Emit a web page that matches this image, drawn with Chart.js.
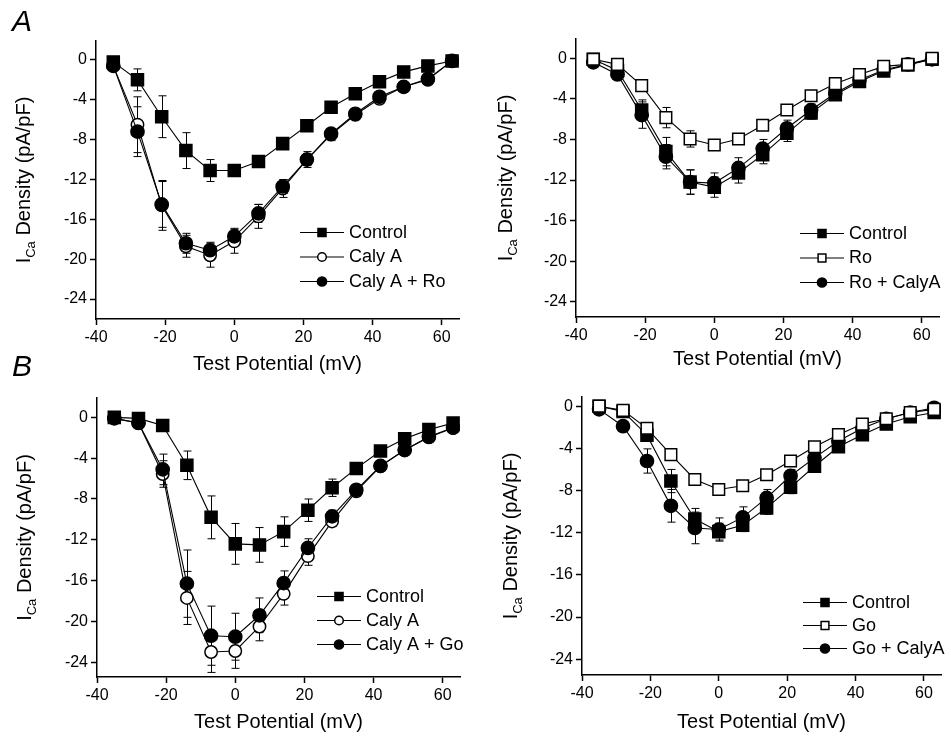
<!DOCTYPE html>
<html>
<head>
<meta charset="utf-8">
<script src="https://cdn.jsdelivr.net/npm/chart.js@4.4.0/dist/chart.umd.min.js"></script>
<style>
body { margin: 0; background: #fff; }
#wrap { position: relative; width: 951px; height: 738px; font-family: Arial, "Liberation Sans", sans-serif; }
canvas { position: absolute; }
.tag { position: absolute; left: 12px; font-style: italic; font-size: 30px; line-height: 30px; color: #000; }
</style>
</head>
<body>
<div id="wrap">
  <canvas id="aLeft" width="470" height="380" style="left:0;top:0"></canvas>
  <canvas id="aRight" width="481" height="380" style="left:470px;top:0"></canvas>
  <canvas id="bLeft" width="470" height="368" style="left:0;top:370px"></canvas>
  <canvas id="bRight" width="481" height="368" style="left:470px;top:370px"></canvas>
  <div class="tag" style="top:6px">A</div>
  <div class="tag" style="top:351px">B</div>
</div>
<script>
// test potentials (mV)
const volts = [-35, -28, -21, -14, -7, 0, 7, 14, 21, 28, 35, 42, 49, 56, 63];
const xTicks = [-40, -20, 0, 20, 40, 60];
const yTicks = [0, -4, -8, -12, -16, -20, -24];

// A, left: Control / Caly A / Caly A + Ro
const aCtrl    = [-0.2, -2.0, -5.7, -9.1, -11.1, -11.1, -10.2, -8.4, -6.6, -4.75, -3.4, -2.2, -1.2, -0.6, -0.1];
const aCtrlErr = [0.3, 1.1, 2.1, 1.8, 1.1, 0.6, 0.4, 0.3, 0.3, 0.3, 0.3, 0.3, 0.3, 0.3, 0.2];
const aCaly    = [-0.6, -6.5, -14.6, -18.7, -19.6, -18.2, -15.7, -12.9, -10.0, -7.5, -5.5, -3.9, -2.7, -2.0, -0.1];
const aCalyErr = [0.3, 2.8, 2.5, 1.1, 1.2, 1.2, 1.2, 0.9, 0.8, 0.6, 0.5, 0.4, 0.3, 0.3, 0.2];
const aCalyRo    = [-0.6, -7.2, -14.5, -18.4, -19.1, -17.7, -15.4, -12.7, -10.0, -7.4, -5.4, -3.7, -2.7, -1.9, -0.1];
const aCalyRoErr = [0.3, 2.5, 2.3, 1.0, 0.8, 0.8, 0.9, 0.7, 0.6, 0.5, 0.4, 0.4, 0.3, 0.3, 0.2];

// A, right: Control / Ro / Ro + CalyA
const arCtrl    = [-0.1, -1.2, -5.1, -9.2, -12.2, -12.7, -11.3, -9.5, -7.4, -5.4, -3.6, -2.3, -1.25, -0.65, -0.1];
const arCtrlErr = [0.2, 0.3, 1.0, 1.4, 1.2, 1.0, 1.0, 0.9, 0.8, 0.6, 0.4, 0.3, 0.3, 0.2, 0.2];
const arRo      = [-0.1, -0.6, -2.7, -5.85, -7.95, -8.55, -7.95, -6.6, -5.1, -3.7, -2.5, -1.6, -0.8, -0.6, 0];
const arRoErr   = [0.2, 0.3, 0.5, 1.0, 0.8, 0.4, 0.4, 0.3, 0.3, 0.3, 0.3, 0.3, 0.2, 0.2, 0.2];
const arRoCaly    = [-0.4, -1.6, -5.6, -9.7, -12.2, -12.3, -10.8, -8.9, -6.9, -5.1, -3.45, -2.15, -1.15, -0.6, -0.1];
const arRoCalyErr = [0.2, 0.3, 1.3, 1.2, 1.2, 1.0, 1.0, 0.9, 0.8, 0.6, 0.4, 0.3, 0.3, 0.2, 0.2];

// B, left: Control / Caly A / Caly A + Go
const bCtrl    = [0, -0.1, -0.8, -4.7, -9.8, -12.4, -12.5, -11.2, -9.1, -6.9, -5.0, -3.3, -2.1, -1.2, -0.55];
const bCtrlErr = [0.2, 0.3, 0.3, 1.4, 2.1, 2.0, 1.7, 1.45, 1.1, 0.85, 0.5, 0.4, 0.4, 0.3, 0.3];
const bCaly    = [-0.1, -0.55, -5.55, -17.7, -23.0, -22.9, -20.5, -17.3, -13.6, -10.2, -7.25, -4.8, -3.2, -1.95, -1.05];
const bCalyErr = [0.2, 0.3, 1.3, 2.6, 2.0, 1.7, 1.4, 1.1, 0.9, 0.5, 0.5, 0.4, 0.3, 0.3, 0.2];
const bCalyGo    = [-0.1, -0.55, -5.1, -16.3, -21.4, -21.5, -19.4, -16.25, -12.8, -9.7, -7.1, -4.75, -3.2, -1.9, -1.0];
const bCalyGoErr = [0.2, 0.3, 1.5, 3.3, 2.9, 2.3, 1.7, 1.2, 0.9, 0.6, 0.5, 0.4, 0.3, 0.3, 0.2];

// B, right: Control / Go / Go + CalyA
const brCtrl    = [0, -0.5, -2.75, -7.1, -10.7, -11.9, -11.3, -9.65, -7.7, -5.7, -3.85, -2.7, -1.7, -1.0, -0.6];
const brCtrlErr = [0.2, 0.3, 0.6, 1.1, 1.0, 0.8, 0.6, 0.6, 0.6, 0.5, 0.4, 0.3, 0.3, 0.2, 0.2];
const brGo      = [0, -0.4, -2.1, -4.6, -6.95, -7.9, -7.55, -6.5, -5.2, -3.85, -2.7, -1.7, -1.2, -0.6, -0.3];
const brGoErr   = [0.2, 0.3, 0.4, 0.5, 0.4, 0.4, 0.4, 0.4, 0.4, 0.3, 0.3, 0.3, 0.2, 0.2, 0.2];
const brGoCaly    = [-0.3, -1.9, -5.2, -9.45, -11.55, -11.7, -10.55, -8.7, -6.6, -4.9, -3.3, -2.1, -1.2, -0.6, -0.15];
const brGoCalyErr = [0.2, 0.3, 1.15, 1.55, 1.5, 1.1, 1.0, 0.8, 0.6, 0.5, 0.4, 0.3, 0.3, 0.2, 0.2];

const marks = {
  sqFill:  { style: 'rect',   r: 8.5, fill: '#000', legendR: 5.7 },
  sqOpen:  { style: 'rect',   r: 8.2, fill: '#fff', legendR: 5.5 },
  cirOpen: { style: 'circle', r: 6.2, fill: '#fff', legendR: 4.3 },
  cirFill: { style: 'circle', r: 6.6, fill: '#000', legendR: 4.6 }
};

function makeSet(label, vals, errs, mark, order) {
  return {
    label: label,
    data: volts.map((v, i) => ({ x: v, y: vals[i] })),
    errs: errs,
    mark: mark,
    order: order,
    borderColor: '#000',
    borderWidth: 1.1,
    tension: 0,
    pointStyle: mark.style,
    pointRadius: mark.r,
    pointBackgroundColor: mark.fill,
    pointBorderColor: '#000',
    pointBorderWidth: 1.5
  };
}

const errorBars = {
  id: 'errorBars',
  beforeDatasetsDraw(chart) {
    const { ctx, scales: { x, y } } = chart;
    ctx.save();
    ctx.strokeStyle = '#000';
    ctx.lineWidth = 1;
    chart.data.datasets.forEach(ds => {
      ds.data.forEach((p, i) => {
        const e = ds.errs[i];
        const px = Math.round(x.getPixelForValue(p.x)) + 0.5;
        const y1 = y.getPixelForValue(p.y + e);
        const y2 = y.getPixelForValue(p.y - e);
        ctx.beginPath();
        ctx.moveTo(px, y1); ctx.lineTo(px, y2);
        ctx.moveTo(px - 4, y1); ctx.lineTo(px + 4, y1);
        ctx.moveTo(px - 4, y2); ctx.lineTo(px + 4, y2);
        ctx.stroke();
      });
    });
    ctx.restore();
  }
};

// axis titles (with subscript) and the legend box
const panelText = {
  id: 'panelText',
  afterDraw(chart, args, opts) {
    const { ctx, chartArea: a } = chart;
    ctx.save();
    ctx.fillStyle = '#000';
    ctx.textBaseline = 'middle';

    ctx.font = '20px Arial, "Liberation Sans"';
    ctx.textAlign = 'center';
    ctx.fillText('Test Potential (mV)', (a.left + a.right) / 2, a.bottom + opts.xTitle);

    // I(Ca) Density (pA/pF), rotated
    ctx.translate(a.left + opts.yTitle, (a.top + a.bottom) / 2);
    ctx.rotate(-Math.PI / 2);
    ctx.textAlign = 'left';
    const big = '20px Arial, "Liberation Sans"';
    const small = '13px Arial, "Liberation Sans"';
    ctx.font = big;
    const wI = ctx.measureText('I').width;
    const wRest = ctx.measureText(' Density (pA/pF)').width;
    ctx.font = small;
    const wSub = ctx.measureText('Ca').width;
    let tx = -(wI + wSub + wRest) / 2;
    ctx.font = big;
    ctx.fillText('I', tx, 0);
    tx += wI;
    ctx.font = small;
    ctx.fillText('Ca', tx, 7);
    tx += wSub;
    ctx.font = big;
    ctx.fillText(' Density (pA/pF)', tx, 0);
    ctx.setTransform(1, 0, 0, 1, 0, 0);

    // legend
    const lg = opts.legend;
    ctx.font = '18px Arial, "Liberation Sans"';
    ctx.textAlign = 'left';
    chart.data.datasets.forEach((ds, i) => {
      const ly = lg.y + i * lg.gap;
      ctx.strokeStyle = '#000';
      ctx.lineWidth = 1;
      ctx.beginPath();
      ctx.moveTo(lg.x, ly + 0.5);
      ctx.lineTo(lg.x + 44, ly + 0.5);
      ctx.stroke();
      ctx.fillStyle = ds.mark.fill;
      ctx.lineWidth = 1.5;
      Chart.helpers.drawPoint(ctx, { pointStyle: ds.mark.style, radius: ds.mark.legendR, rotation: 0, borderWidth: 1.5 }, lg.x + 22, ly + 0.5);
      ctx.fillStyle = '#000';
      ctx.fillText(ds.label, lg.x + 49, ly + 1);
    });
    ctx.restore();
  }
};

function makePanel(id, sets, p) {
  const tickFont = { family: 'Arial, "Liberation Sans"', size: 16 };
  new Chart(document.getElementById(id), {
    type: 'line',
    data: { datasets: sets },
    options: {
      responsive: false,
      animation: false,
      devicePixelRatio: 1,
      layout: { padding: { top: p.top, right: p.right, left: 0, bottom: 0 } },
      plugins: {
        legend: { display: false },
        tooltip: { enabled: false },
        panelText: { xTitle: p.xTitle, yTitle: p.yTitle, legend: p.legend }
      },
      scales: {
        x: {
          type: 'linear',
          min: -40,
          max: 65,
          afterBuildTicks: s => { s.ticks = xTicks.map(v => ({ value: v })); },
          afterFit: s => { s.height = p.xh; },
          grid: { drawOnChartArea: false, drawTicks: true, tickLength: 6, tickColor: '#000', tickWidth: 1.5 },
          border: { display: true, color: '#000', width: 1.5 },
          ticks: { color: '#000', font: tickFont, padding: 3, maxRotation: 0 }
        },
        y: {
          type: 'linear',
          min: p.ymin,
          max: p.ymax,
          afterBuildTicks: s => { s.ticks = yTicks.map(v => ({ value: v })); },
          afterFit: s => { s.width = p.yw; },
          grid: { drawOnChartArea: false, drawTicks: true, tickLength: 6, tickColor: '#000', tickWidth: 1.5 },
          border: { display: true, color: '#000', width: 1.5 },
          ticks: { color: '#000', font: tickFont, padding: 3 }
        }
      }
    },
    plugins: [errorBars, panelText]
  });
}

makePanel('aLeft', [
  makeSet('Control', aCtrl, aCtrlErr, marks.sqFill, 2),
  makeSet('Caly A', aCaly, aCalyErr, marks.cirOpen, 1),
  makeSet('Caly A + Ro', aCalyRo, aCalyRoErr, marks.cirFill, 0)
], { top: 41, right: 11, yw: 96, xh: 61, ymin: -26, ymax: 1.9, xTitle: 45, yTitle: -72,
     legend: { x: 300, y: 232, gap: 24.5 } });

makePanel('aRight', [
  makeSet('Control', arCtrl, arCtrlErr, marks.sqFill, 2),
  makeSet('Ro', arRo, arRoErr, marks.sqOpen, 0),
  makeSet('Ro + CalyA', arRoCaly, arRoCalyErr, marks.cirFill, 1)
], { top: 39, right: 12, yw: 106, xh: 63, ymin: -25.5, ymax: 1.9, xTitle: 42, yTitle: -70,
     legend: { x: 330, y: 233, gap: 24.5 } });

makePanel('bLeft', [
  makeSet('Control', bCtrl, bCtrlErr, marks.sqFill, 2),
  makeSet('Caly A', bCaly, bCalyErr, marks.cirOpen, 1),
  makeSet('Caly A + Go', bCalyGo, bCalyGoErr, marks.cirFill, 0)
], { top: 28, right: 10, yw: 97, xh: 61, ymin: -25.45, ymax: 1.9, xTitle: 45, yTitle: -72,
     legend: { x: 317, y: 226, gap: 24 } });

makePanel('bRight', [
  makeSet('Control', brCtrl, brCtrlErr, marks.sqFill, 2),
  makeSet('Go', brGo, brGoErr, marks.sqOpen, 0),
  makeSet('Go + CalyA', brGoCaly, brGoCalyErr, marks.cirFill, 1)
], { top: 27, right: 6, yw: 112, xh: 63, ymin: -25.5, ymax: 0.87, xTitle: 47, yTitle: -71,
     legend: { x: 333, y: 232, gap: 23 } });
</script>
</body>
</html>
